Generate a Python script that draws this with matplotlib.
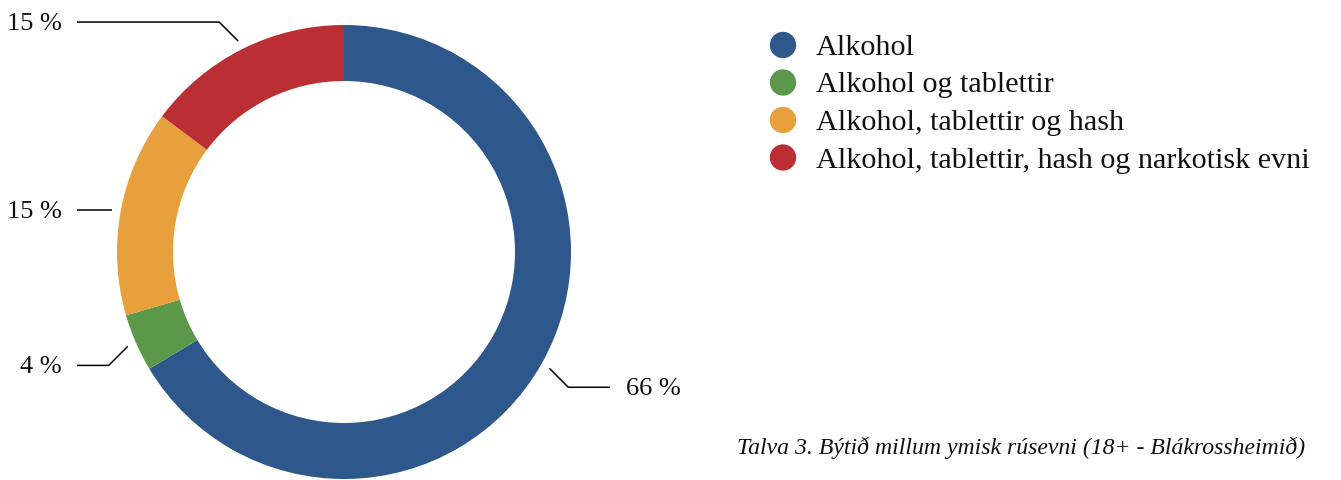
import numpy as np
import matplotlib
matplotlib.use("Agg")
import matplotlib.pyplot as plt

categories = ["Alkohol", "Alkohol og tablettir", "Alkohol, tablettir og hash",
              "Alkohol, tablettir, hash og narkotisk evni"]
values = [66.4, 4.1, 14.7, 14.8]
labels = ["66 %", "4 %", "15 %", "15 %"]
colors = ["#2E588B", "#5C984A", "#E8A03D", "#BB2E33"]
caption = "Talva 3. Býtið millum ymisk rúsevni (18+ - Blákrossheimið)"

W, H = 1341, 480
fig = plt.figure(figsize=(W / 100, H / 100), dpi=100)
ax = fig.add_axes([0, 0, 1, 1])

font = "Liberation Serif"
cx, cy = 344, H - 252
R = 227
ring = 56

wedges, _ = ax.pie(values, colors=colors, startangle=90, counterclock=False,
                   radius=R, center=(cx, cy),
                   wedgeprops=dict(width=ring, linewidth=0))
ax.set_xlim(0, W)
ax.set_ylim(0, H)
ax.set_aspect("equal")
ax.axis("off")

# leader lines and labels
for w, lab in zip(wedges, labels):
    ang = np.deg2rad((w.theta1 + w.theta2) / 2)
    dx, dy = np.cos(ang), np.sin(ang)
    r1 = R + 9
    p1 = (cx + r1 * dx, cy + r1 * dy)
    sx = 1 if dx >= 0 else -1
    sy = 0 if abs(dy) < 0.3 else (1 if dy > 0 else -1)
    p2 = (p1[0] + sx * 19, p1[1] + sy * 19)
    if dx >= 0:
        xe = 610
        tx, ha = 626, "left"
    else:
        xe = 77
        tx, ha = 62, "right"
    ax.plot([p1[0], p2[0], xe], [p1[1], p2[1], p2[1]], color="black", lw=1.1,
            solid_capstyle="butt")
    ax.text(tx, p2[1] - 2, lab, ha=ha, va="center", fontsize=19, family=font,
            color="#111111")

# legend
ly0 = 45
for i, (c, cat) in enumerate(zip(colors, categories)):
    yy = H - (ly0 + i * 37.5)
    ax.scatter([783], [yy], s=360, color=c, edgecolors="none")
    ax.text(816, yy - 3, cat, ha="left", va="center", fontsize=21.7, family=font,
            color="#111111")

ax.text(737, H - 448, caption, ha="left", va="center", fontsize=17.1,
        family=font, style="italic", color="#111111")

fig.savefig("out.png", dpi=100)
